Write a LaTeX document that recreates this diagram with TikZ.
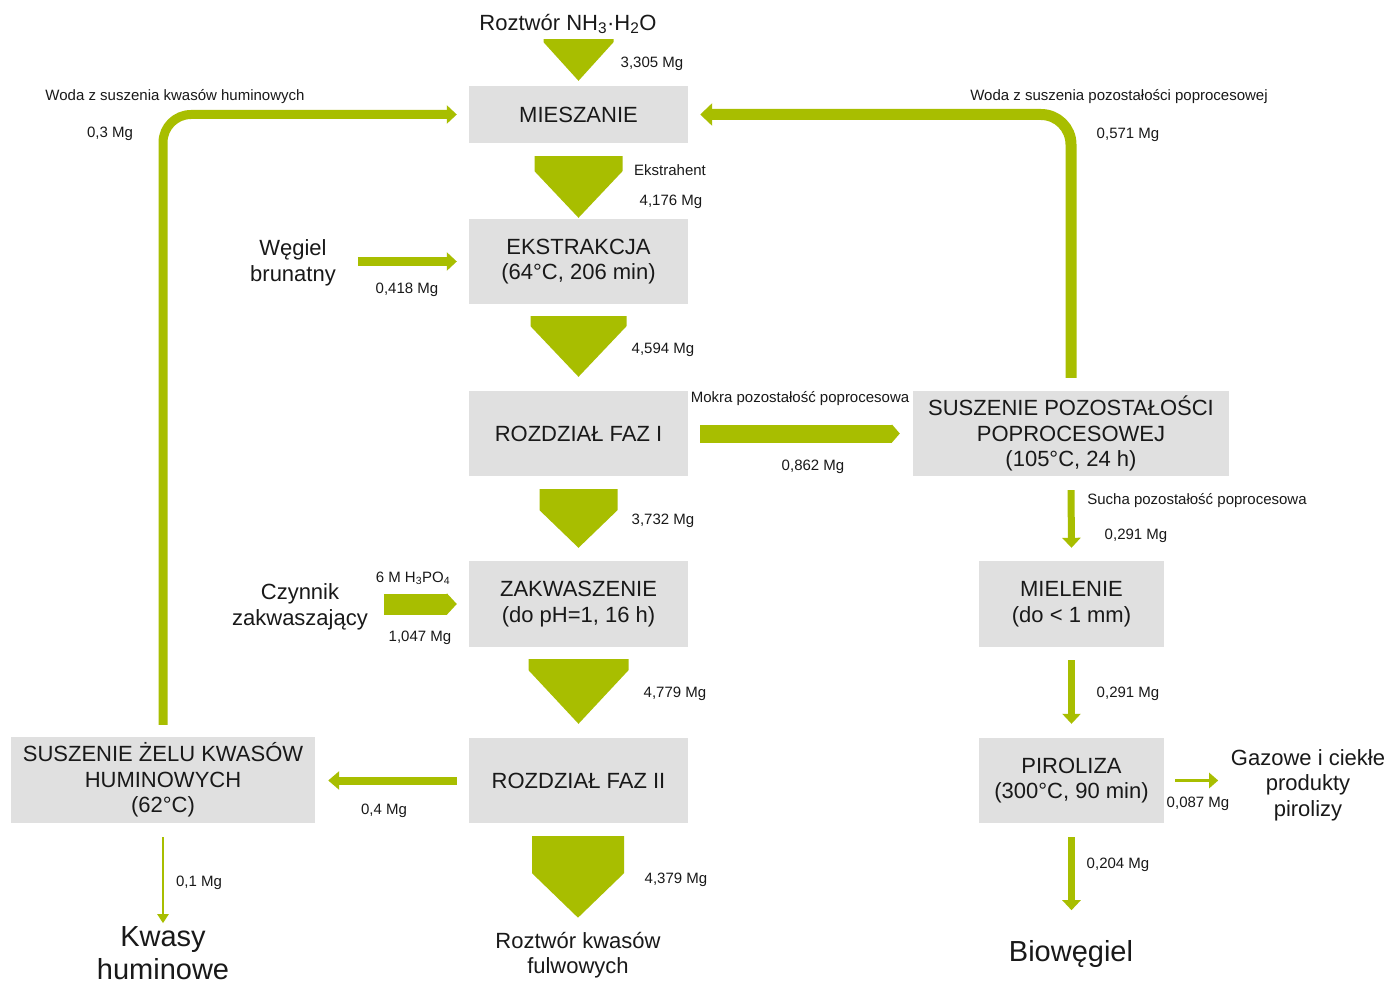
\documentclass[tikz,border=0pt]{standalone}
\usepackage{fontspec}
\setmainfont{Liberation Sans}
\usetikzlibrary{arrows.meta,calc}
\definecolor{flow}{RGB}{168,190,0}
\definecolor{boxgray}{RGB}{224,224,224}
\definecolor{txt}{RGB}{25,25,25}
\tikzset{
 box/.style={fill=boxgray, inner sep=0pt, align=center, text=txt, font=\fontsize{22}{25.5}\selectfont},
 big/.style={inner sep=0pt, align=center, text=txt, font=\fontsize{22}{25.5}\selectfont, yshift=-2pt},
 huge/.style={inner sep=0pt, align=center, text=txt, font=\fontsize{29}{33}\selectfont},
 lbl/.style={inner sep=0pt, text=txt, font=\fontsize{15}{17}\selectfont, yshift=-2.5pt},
 flowline/.style={draw=flow, line cap=butt},
}
% #1 start node, #2 end node, #3 gap below start, #4 gap above end, #5 half width, #6 straight part
\newcommand\chevarrow[6]{%
 \fill[flow] let \p1=(#1.south), \p2=(#2.north) in
  (\x2-#5pt,\y1-#3pt) -- (\x2+#5pt,\y1-#3pt) -- (\x2+#5pt,\y1-#3pt-#6pt)
  -- (\x2,\y2+#4pt) -- (\x2-#5pt,\y1-#3pt-#6pt) -- cycle;}
\begin{document}
\begin{tikzpicture}[x=1pt,y=-1pt]
\useasboundingbox (0,0) rectangle (1391,984);
\fill[white] (0,0) rectangle (1391,984);
% process boxes
\node[box, minimum width=219pt, minimum height=57pt] (mix) at (578.5,114.5) {MIESZANIE};
\node[box, minimum width=219pt, minimum height=85pt] (ext) at (578.5,261.5) {EKSTRAKCJA\\(64°C, 206 min)};
\node[box, minimum width=219pt, minimum height=85pt] (roz1) at (578.5,433.5) {ROZDZIAŁ FAZ I};
\node[box, minimum width=219pt, minimum height=86pt] (zak) at (578.5,604) {ZAKWASZENIE\\(do pH=1, 16 h)};
\node[box, minimum width=219pt, minimum height=85pt] (roz2) at (578.5,780.5) {ROZDZIAŁ FAZ II};
\node[box, minimum width=316pt, minimum height=85pt] (poz) at (1071,433.5) {SUSZENIE POZOSTAŁOŚCI\\POPROCESOWEJ\\(105°C, 24 h)};
\node[box, minimum width=185pt, minimum height=86pt] (mil) at (1071.5,604) {MIELENIE\\(do < 1 mm)};
\node[box, minimum width=185pt, minimum height=85pt] (pir) at (1071.5,780.5) {PIROLIZA\\(300°C, 90 min)};
\node[box, minimum width=304pt, minimum height=86pt] (zelu) at (163,780) {SUSZENIE ŻELU KWASÓW\\HUMINOWYCH\\(62°C)};
% inputs / outputs
\node[big] (nh3) at (568,22) {Roztwór NH\textsubscript{3}·H\textsubscript{2}O};
\node[big] (wegiel) at (293,261) {Węgiel\\brunatny};
\node[big] (czyn) at (300,605) {Czynnik\\zakwaszający};
\node[big] (fulw) at (578,953) {Roztwór kwasów\\fulwowych};
\node[big] (gaz) at (1308,783) {Gazowe i ciekłe\\produkty\\pirolizy};
\node[huge] (kwasy) at (163,953) {Kwasy\\huminowe};
\node[huge, yshift=-3pt] (bio) at (1071,951) {Biowęgiel};
% main chevron flows
\chevarrow{nh3}{mix}{5}{5}{35}{3}
\chevarrow{mix}{ext}{13}{1}{44}{15}
\chevarrow{ext}{roz1}{12}{14}{48}{10}
\chevarrow{roz1}{zak}{13}{13}{39}{21}
\chevarrow{zak}{roz2}{12}{14}{50}{11}
\chevarrow{roz2}{fulw}{13}{14}{46}{37}
% side arrows
\draw[flowline, line width=9pt, -{Triangle[length=10pt,width=18pt]}] ($(ext.west)+(-111,0)$) -- ($(ext.west)+(-12,0)$);
\draw[flowline, line width=18pt, -{Triangle[length=8pt,width=18pt]}] ($(roz1.east)+(12,0)$) -- ($(poz.west |- roz1.east)+(-13,0)$);
\draw[flowline, line width=21pt, -{Triangle[length=10pt,width=21pt]}] ($(zak.west)+(-85,0)$) -- ($(zak.west)+(-12,0)$);
\draw[flowline, line width=8pt, -{Triangle[length=11pt,width=18pt]}] ($(roz2.west)+(-12,0)$) -- ($(zelu.east |- roz2.west)+(13,0)$);
% recycle loops
\draw[flowline, line width=9pt, rounded corners=28pt, -{Triangle[length=10pt,width=18pt]}] ($(zelu.north)+(0,-12)$) |- ($(mix.west)+(-12,0)$);
\draw[flowline, line width=11pt, rounded corners=30pt, -{Triangle[length=12pt,width=22pt]}] ($(poz.north)+(0,-13)$) |- ($(mix.east)+(12,0)$);
% right column
\draw[flowline, line width=7pt, -{Triangle[length=10pt,width=18pt]}] ($(poz.south)+(0,14)$) -- ($(mil.north)+(0,-13)$);
\draw[flowline, line width=7pt, -{Triangle[length=10pt,width=18pt]}] ($(mil.south)+(0,13)$) -- ($(pir.north)+(0,-14)$);
\draw[flowline, line width=7pt, -{Triangle[length=10pt,width=18pt]}] ($(pir.south)+(0,14)$) -- ($(pir.south)+(0,87)$);
\draw[flowline, line width=3pt, -{Triangle[length=9pt,width=15pt]}] ($(pir.east)+(11,0)$) -- ($(pir.east)+(54,0)$);
\draw[flowline, line width=2pt, -{Triangle[length=9pt,width=11pt]}] ($(zelu.south)+(0,14)$) -- ($(zelu.south)+(0,100)$);
% labels
\node[lbl] (l1) at (652,61) {3,305 Mg};
\node[lbl] (l2) at (670,168) {Ekstrahent};
\node[lbl] (l3) at (671,199) {4,176 Mg};
\node[lbl] (l4) at (663,347) {4,594 Mg};
\node[lbl] (l5) at (800,396) {Mokra pozostałość poprocesowa};
\node[lbl] (l6) at (813,464) {0,862 Mg};
\node[lbl] (l7) at (663,518) {3,732 Mg};
\node[lbl] (l8) at (413,576) {6 M H\textsubscript{3}PO\textsubscript{4}};
\node[lbl] (l9) at (420,635) {1,047 Mg};
\node[lbl] (l10) at (675,691) {4,779 Mg};
\node[lbl] (l11) at (384,808) {0,4 Mg};
\node[lbl] (l12) at (676,877) {4,379 Mg};
\node[lbl] (l13) at (199,880) {0,1 Mg};
\node[lbl] (l14) at (175,94) {Woda z suszenia kwasów huminowych};
\node[lbl] (l15) at (110,131) {0,3 Mg};
\node[lbl] (l16) at (407,287) {0,418 Mg};
\node[lbl] (l17) at (1119,94) {Woda z suszenia pozostałości poprocesowej};
\node[lbl] (l18) at (1128,132) {0,571 Mg};
\node[lbl] (l19) at (1197,498) {Sucha pozostałość poprocesowa};
\node[lbl] (l20) at (1136,533) {0,291 Mg};
\node[lbl] (l21) at (1128,691) {0,291 Mg};
\node[lbl] (l22) at (1198,801) {0,087 Mg};
\node[lbl] (l23) at (1118,862) {0,204 Mg};
\end{tikzpicture}
\end{document}
